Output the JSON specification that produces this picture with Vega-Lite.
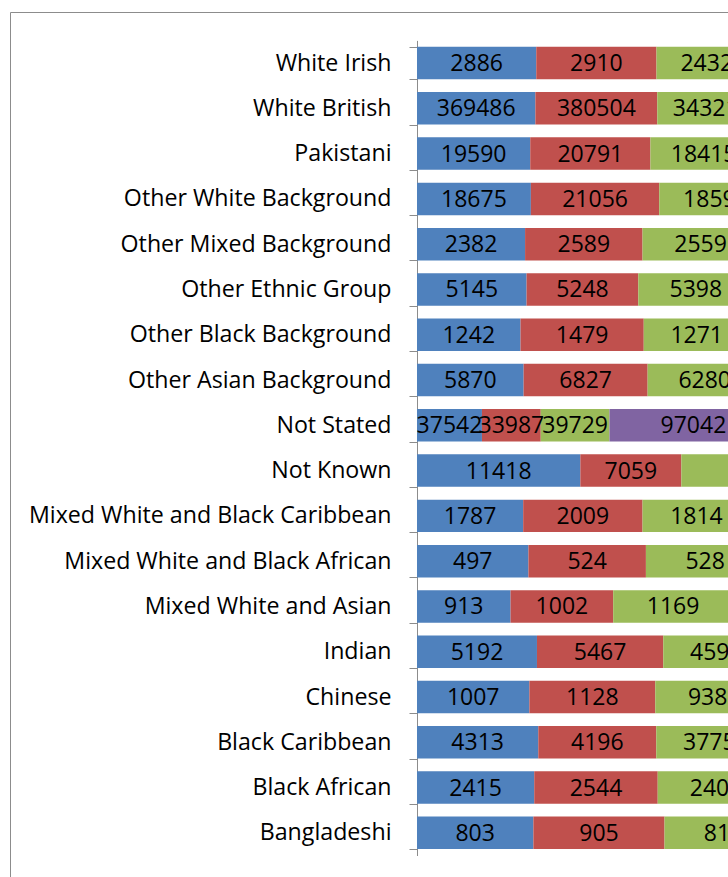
{
  "$schema": "https://vega.github.io/schema/vega-lite/v6.json",
  "autosize": {"type": "none"},
  "padding": {"left": 10, "top": 12, "right": -2, "bottom": -2},
  "width": 720,
  "height": 867,
  "background": "white",
  "config": {
    "view": {"stroke": "#8c8c8c", "strokeWidth": 1},
    "font": "Open Sans"
  },
  "data": {
    "values": [
      {"group": "White Irish", "Series1": 2886, "Series2": 2910, "Series3": 2432, "Series4": 3100, "Series5": 3192},
      {"group": "White British", "Series1": 369486, "Series2": 380504, "Series3": 343215, "Series4": 389000, "Series5": 390395},
      {"group": "Pakistani", "Series1": 19590, "Series2": 20791, "Series3": 18415, "Series4": 22400, "Series5": 22604},
      {"group": "Other White Background", "Series1": 18675, "Series2": 21056, "Series3": 18595, "Series4": 20000, "Series5": 20074},
      {"group": "Other Mixed Background", "Series1": 2382, "Series2": 2589, "Series3": 2559, "Series4": 2800, "Series5": 2894},
      {"group": "Other Ethnic Group", "Series1": 5145, "Series2": 5248, "Series3": 5398, "Series4": 6100, "Series5": 6285},
      {"group": "Other Black Background", "Series1": 1242, "Series2": 1479, "Series3": 1271, "Series4": 1600, "Series5": 1608},
      {"group": "Other Asian Background", "Series1": 5870, "Series2": 6827, "Series3": 6280, "Series4": 7000, "Series5": 7053},
      {"group": "Not Stated", "Series1": 37542, "Series2": 33987, "Series3": 39729, "Series4": 97042, "Series5": 138500},
      {"group": "Not Known", "Series1": 11418, "Series2": 7059, "Series3": 12000, "Series4": 5700, "Series5": 5763},
      {"group": "Mixed White and Black Caribbean", "Series1": 1787, "Series2": 2009, "Series3": 1814, "Series4": 2200, "Series5": 2288},
      {"group": "Mixed White and Black African", "Series1": 497, "Series2": 524, "Series3": 528, "Series4": 560, "Series5": 567},
      {"group": "Mixed White and Asian", "Series1": 913, "Series2": 1002, "Series3": 1169, "Series4": 1380, "Series5": 1392},
      {"group": "Indian", "Series1": 5192, "Series2": 5467, "Series3": 4595, "Series4": 5300, "Series5": 5414},
      {"group": "Chinese", "Series1": 1007, "Series2": 1128, "Series3": 938, "Series4": 1150, "Series5": 1153},
      {"group": "Black Caribbean", "Series1": 4313, "Series2": 4196, "Series3": 3775, "Series4": 4500, "Series5": 4552},
      {"group": "Black African", "Series1": 2415, "Series2": 2544, "Series3": 2405, "Series4": 2500, "Series5": 2496},
      {"group": "Bangladeshi", "Series1": 803, "Series2": 905, "Series3": 815, "Series4": 800, "Series5": 817}
    ]
  },
  "transform": [
    {"fold": ["Series1", "Series2", "Series3", "Series4", "Series5"], "as": ["series", "value"]}
  ],
  "encoding": {
    "y": {
      "field": "group",
      "type": "nominal",
      "sort": ["White Irish", "White British", "Pakistani", "Other White Background", "Other Mixed Background", "Other Ethnic Group", "Other Black Background", "Other Asian Background", "Not Stated", "Not Known", "Mixed White and Black Caribbean", "Mixed White and Black African", "Mixed White and Asian", "Indian", "Chinese", "Black Caribbean", "Black African", "Bangladeshi"],
      "scale": {"range": [28.4, 843.5], "paddingInner": 0.283, "paddingOuter": 0.1415},
      "axis": {
        "title": null,
        "offset": -407,
        "tickBand": "extent",
        "tickSize": 8,
        "tickColor": "#8c8c8c",
        "domainColor": "#8c8c8c",
        "labelFont": "Open Sans",
        "labelFontSize": 23.2,
        "labelColor": "#000000",
        "labelPadding": 18,
        "labelLimit": 500
      }
    },
    "x": {
      "field": "value",
      "type": "quantitative",
      "stack": "normalize",
      "scale": {"domain": [-0.67833, 0.52167], "nice": false, "zero": false},
      "axis": null
    },
    "order": {"field": "series", "sort": "ascending"}
  },
  "layer": [
    {
      "mark": {"type": "bar"},
      "encoding": {
        "color": {
          "field": "series",
          "type": "nominal",
          "scale": {"domain": ["Series1", "Series2", "Series3", "Series4", "Series5"], "range": ["#4F81BD", "#C0504D", "#9BBB59", "#8064A2", "#4BACC6"]},
          "legend": null
        }
      }
    },
    {
      "mark": {"type": "text", "font": "Open Sans", "fontSize": 23, "color": "#000000", "baseline": "middle", "dy": 1},
      "encoding": {
        "x": {"field": "value", "type": "quantitative", "stack": "normalize", "bandPosition": 0.5},
        "detail": {"field": "series"},
        "text": {"field": "value", "type": "quantitative", "format": "d"}
      }
    }
  ]
}
